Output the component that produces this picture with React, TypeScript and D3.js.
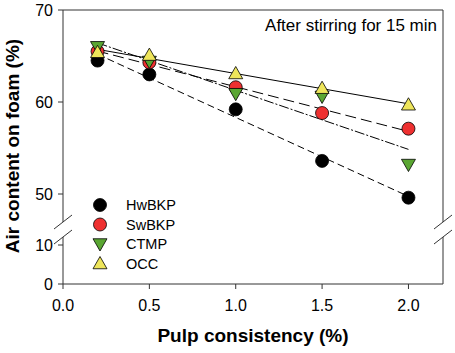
import React from 'react';
import * as d3 from 'd3';

// pulp consistency (%)
const consistency = [0.2, 0.5, 1.0, 1.5, 2.0];

// air content on foam (%) after stirring for 15 min
const hwbkp = [64.5, 63.0, 59.2, 53.6, 49.6];
const swbkp = [65.5, 64.3, 61.6, 58.8, 57.1];
const ctmp = [66.0, 64.4, 60.9, 60.6, 53.2];
const occ = [65.4, 65.1, 63.1, 61.5, 59.7];

const xTicks = [0.0, 0.5, 1.0, 1.5, 2.0];
const yUpperTicks = [50, 60, 70];
const yLowerTicks = [0, 10];

const series = [
	{ name: 'HwBKP', values: hwbkp, shape: 'circle', fill: '#000000', dash: '7,4' },
	{ name: 'SwBKP', values: swbkp, shape: 'circle', fill: '#ee3030', dash: '11,5' },
	{ name: 'CTMP', values: ctmp, shape: 'down', fill: '#5aa632', dash: '10,2,2,2' },
	{ name: 'OCC', values: occ, shape: 'up', fill: '#eee55a', dash: null },
];

const W = 455;
const H = 353;
const left = 63;
const right = 443;
const top = 10;
const bottom = 284;
const breakTop = 222;
const breakBottom = 237;
const font = 'Liberation Sans, Arial, sans-serif';
const axisColor = '#333';

function linearFit(xs: number[], ys: number[]) {
	const mx = d3.mean(xs) as number;
	const my = d3.mean(ys) as number;
	let sxy = 0;
	let sxx = 0;
	xs.forEach((x, i) => {
		sxy += (x - mx) * (ys[i] - my);
		sxx += (x - mx) * (x - mx);
	});
	const b = sxy / sxx;
	return (x: number) => my + b * (x - mx);
}

function Marker({ shape, x, y, fill }: { shape: string; x: number; y: number; fill: string }) {
	if (shape === 'circle') {
		return <circle cx={x} cy={y} r={6.5} fill={fill} stroke="#000" strokeWidth={0.8} />;
	}
	const s = 7;
	const pts =
		shape === 'up'
			? `${x},${y - s} ${x - s},${y + s * 0.75} ${x + s},${y + s * 0.75}`
			: `${x},${y + s} ${x - s},${y - s * 0.75} ${x + s},${y - s * 0.75}`;
	return <polygon points={pts} fill={fill} stroke="#000" strokeWidth={0.8} />;
}

export default function App() {
	const xScale = d3.scaleLinear().domain([0, 2.2]).range([left, right]);
	const yUpper = d3.scaleLinear().domain([50, 70]).range([194, top]);
	const yLower = d3.scaleLinear().domain([0, 10]).range([bottom, 245]);

	const slash = (cx: number, cy: number, key: string) => (
		<line key={key} x1={cx - 9} y1={cy + 7} x2={cx + 9} y2={cy - 7} stroke={axisColor} strokeWidth={1} />
	);

	return (
		<svg width={W} height={H} style={{ position: 'absolute', left: 0, top: 0 }} fontFamily={font}>
			<rect width={W} height={H} fill="#fff" />
			{/* frame */}
			<line x1={left} y1={top} x2={right} y2={top} stroke={axisColor} />
			<line x1={left} y1={bottom} x2={right} y2={bottom} stroke={axisColor} />
			<line x1={left} y1={top} x2={left} y2={breakTop} stroke={axisColor} />
			<line x1={left} y1={breakBottom} x2={left} y2={bottom} stroke={axisColor} />
			<line x1={right} y1={top} x2={right} y2={breakTop} stroke={axisColor} />
			<line x1={right} y1={breakBottom} x2={right} y2={bottom} stroke={axisColor} />
			{slash(left, breakTop, 'l1')}
			{slash(left, breakBottom, 'l2')}
			{slash(right, breakTop, 'r1')}
			{slash(right, breakBottom, 'r2')}

			{/* y ticks */}
			{yUpperTicks.map(t => (
				<g key={'u' + t}>
					<line x1={left - 5} x2={left} y1={yUpper(t)} y2={yUpper(t)} stroke={axisColor} />
					<text x={left - 10} y={yUpper(t)} dy="0.36em" textAnchor="end" fontSize={16}>
						{t}
					</text>
				</g>
			))}
			{yLowerTicks.map(t => (
				<g key={'l' + t}>
					<line x1={left - 5} x2={left} y1={yLower(t)} y2={yLower(t)} stroke={axisColor} />
					<text x={left - 10} y={yLower(t)} dy="0.36em" textAnchor="end" fontSize={16}>
						{t}
					</text>
				</g>
			))}

			{/* x ticks */}
			{xTicks.map(t => (
				<g key={'x' + t}>
					<line x1={xScale(t)} x2={xScale(t)} y1={bottom} y2={bottom + 5} stroke={axisColor} />
					<text x={xScale(t)} y={bottom + 27} textAnchor="middle" fontSize={16}>
						{t.toFixed(1)}
					</text>
				</g>
			))}

			<text x={(left + right) / 2 + 0} y={342} textAnchor="middle" fontSize={19} fontWeight="bold">
				Pulp consistency (%)
			</text>
			<text
				transform={`translate(19,146) rotate(-90)`}
				textAnchor="middle"
				fontSize={19}
				fontWeight="bold"
			>
				Air content on foam (%)
			</text>

			<text x={437} y={31} textAnchor="end" fontSize={17}>
				After stirring for 15 min
			</text>

			{/* regression lines */}
			{series.map(s => {
				const f = linearFit(consistency, s.values);
				return (
					<line
						key={'fit' + s.name}
						x1={xScale(0.2)}
						y1={yUpper(f(0.2))}
						x2={xScale(2.0)}
						y2={yUpper(f(2.0))}
						stroke="#000"
						strokeWidth={1}
						strokeDasharray={s.dash || undefined}
					/>
				);
			})}

			{/* points */}
			{series.map(s => (
				<g key={'pts' + s.name}>
					{consistency.map((c, i) => (
						<Marker key={i} shape={s.shape} x={xScale(c)} y={yUpper(s.values[i])} fill={s.fill} />
					))}
				</g>
			))}

			{/* legend */}
			{series.map((s, i) => {
				const ly = 205 + i * 19.5;
				return (
					<g key={'leg' + s.name}>
						<Marker shape={s.shape} x={100} y={ly} fill={s.fill} />
						<text x={126} y={ly} dy="0.36em" fontSize={14.5}>
							{s.name}
						</text>
					</g>
				);
			})}
		</svg>
	);
}
